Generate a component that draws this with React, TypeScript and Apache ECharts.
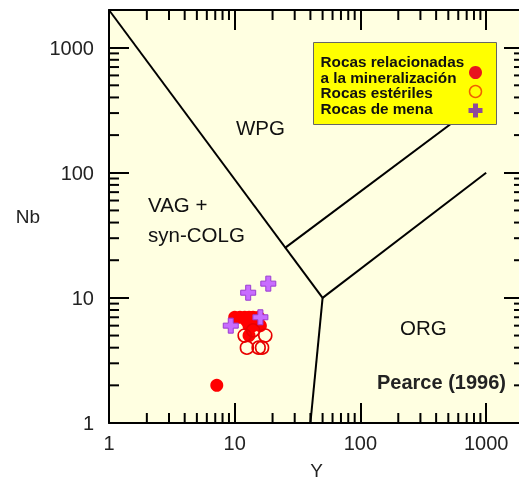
import React, { useEffect, useRef } from 'react';
import * as echarts from 'echarts';

// Data values: [Y (ppm), Nb (ppm)]
const relatedRocks: [number, number][] = [
  [10, 7], [11, 7], [12, 7], [13, 7], [14, 7], [15.5, 7], [12.5, 6.5], [13, 6], [14, 6], [16, 6], [13, 5], [7.2, 2],
];
const barrenRocks: [number, number][] = [
  [12, 5], [17.5, 5], [12.5, 4], [15.5, 4], [16.5, 4], [14, 5.5],
];
const oreRocks: [number, number][] = [
  [9.3, 6], [12.8, 11], [18.5, 13], [16, 7],
];

// Discriminant boundaries (Pearce et al.)
const boundaryWpgVag: [number, number][] = [[1, 2000], [50, 10]];
const boundaryVagOrg: [number, number][] = [[50, 10], [40, 1]];
const boundaryWpgOrg: [number, number][] = [[50, 10], [1000, 100]];
const boundaryUpper: [number, number][] = [[25, 25], [1000, 400]];

const AXIS_MIN = 1;
const AXIS_MAX = 2000;
const majorTicks = [1, 10, 100, 1000];
const minorTicks = [2, 3, 4, 5, 6, 7, 8, 9, 20, 30, 40, 50, 60, 70, 80, 90, 200, 300, 400, 500, 600, 700, 800, 900];

const FONT = "'Liberation Sans', Arial, Helvetica, sans-serif";
const CROSS = 'path://M1,0H2V1H3V2H2V3H1V2H0V1H1Z';

const labelFormatter = (v: number) => {
  const r = Math.round(v);
  return majorTicks.includes(r) ? String(r) : '';
};

export default function App() {
  const ref = useRef<HTMLDivElement>(null);
  useEffect(() => {
    if (!ref.current) return;
    const chart = echarts.init(ref.current, undefined, { renderer: 'svg' });
    const tickStyle = { color: '#000', width: 2 };
    const baseAxis = {
      type: 'log' as const,
      logBase: 10,
      min: AXIS_MIN,
      max: AXIS_MAX,
      splitLine: { show: false },
      axisLine: { show: true, lineStyle: tickStyle },
      axisTick: { show: true, inside: true, length: 20, lineStyle: tickStyle },
    };
    const minorData: number[][] = [];
    minorTicks.forEach((v) => {
      minorData.push([v, 1, 0]);
      minorData.push([1, v, 1]);
    });
    const LZ = 100;
    chart.setOption({
      animation: false,
      grid: {
        left: 109, top: 10, width: 415, height: 413,
        outerBoundsMode: 'none',
        containLabel: false,
        show: true, backgroundColor: '#ffffe1', borderWidth: 0,
      },
      xAxis: [
        {
          ...baseAxis,
          position: 'bottom',
          axisLabel: { formatter: labelFormatter, fontSize: 20, color: '#222', margin: 10, fontFamily: FONT },
          name: 'Y', nameLocation: 'middle', nameGap: 38,
          nameTextStyle: { fontSize: 19, color: '#222', fontFamily: FONT },
        },
        { ...baseAxis, position: 'top', axisLabel: { show: false } },
      ],
      yAxis: [
        {
          ...baseAxis,
          position: 'left',
          axisLabel: { formatter: labelFormatter, fontSize: 20, color: '#222', margin: 15, fontFamily: FONT },
          name: 'Nb', nameLocation: 'middle', nameGap: 69, nameRotate: 0,
          nameTextStyle: { fontSize: 19, color: '#222', fontFamily: FONT },
        },
        { ...baseAxis, position: 'right', axisLabel: { show: false } },
      ],
      series: [
        {
          type: 'custom',
          silent: true,
          clip: false,
          encode: { x: 0, y: 1 },
          data: minorData,
          z: 3,
          renderItem: (_p: any, api: any) => {
            const kind = api.value(2);
            const st = { stroke: '#000', lineWidth: 2 };
            if (kind === 0) {
              const v = api.value(0);
              const b = api.coord([v, AXIS_MIN]);
              const t = api.coord([v, AXIS_MAX]);
              return {
                type: 'group',
                children: [
                  { type: 'line', shape: { x1: b[0], y1: b[1], x2: b[0], y2: b[1] - 10 }, style: st },
                  { type: 'line', shape: { x1: t[0], y1: t[1], x2: t[0], y2: t[1] + 10 }, style: st },
                ],
              };
            }
            const v = api.value(1);
            const l = api.coord([AXIS_MIN, v]);
            const r = api.coord([AXIS_MAX, v]);
            return {
              type: 'group',
              children: [
                { type: 'line', shape: { x1: l[0], y1: l[1], x2: l[0] + 10, y2: l[1] }, style: st },
                { type: 'line', shape: { x1: r[0], y1: r[1], x2: r[0] - 10, y2: r[1] }, style: st },
              ],
            };
          },
        },
        ...[boundaryWpgVag, boundaryVagOrg, boundaryWpgOrg, boundaryUpper].map((d) => ({
          type: 'line',
          data: d,
          symbol: 'none',
          silent: true,
          clip: true,
          lineStyle: { color: '#000', width: 2 },
          z: 2,
        })),
        {
          name: 'Rocas relacionadas a la mineralización',
          type: 'scatter',
          data: relatedRocks,
          symbol: 'circle',
          symbolSize: 13,
          itemStyle: { color: '#ff0000', opacity: 1 },
          z: 4,
        },
        {
          name: 'Rocas estériles',
          type: 'scatter',
          data: barrenRocks,
          symbol: 'circle',
          symbolSize: 13,
          itemStyle: { color: 'rgba(0,0,0,0)', borderColor: '#e80000', borderWidth: 1.6, opacity: 1 },
          z: 5,
        },
        {
          name: 'Rocas de mena',
          type: 'scatter',
          data: oreRocks,
          symbol: CROSS,
          symbolSize: 15,
          itemStyle: { color: '#c86cff', borderColor: '#9a3cd0', borderWidth: 1, opacity: 1 },
          z: 6,
        },
      ],
      graphic: [
        { type: 'text', left: 236, top: 117, style: { text: 'WPG', fill: '#111', font: `20.5px ${FONT}` } },
        { type: 'text', left: 148, top: 194, style: { text: 'VAG +', fill: '#111', font: `20.5px ${FONT}` } },
        { type: 'text', left: 148, top: 224, style: { text: 'syn-COLG', fill: '#111', font: `20.5px ${FONT}` } },
        { type: 'text', left: 400, top: 317, style: { text: 'ORG', fill: '#111', font: `20.5px ${FONT}` } },
        { type: 'text', left: 377, top: 372, style: { text: 'Pearce (1996)', fill: '#222', font: `bold 20px ${FONT}` } },
        {
          type: 'group',
          left: 313,
          top: 42,
          z: LZ,
          children: [
            { type: 'rect', z: LZ, shape: { x: 0, y: 0, width: 183, height: 82 }, style: { fill: '#ffff00', stroke: '#666', lineWidth: 1 } },
            {
              type: 'text', z: LZ + 1, x: 7, y: 11,
              style: {
                text: 'Rocas relacionadas\na la mineralización\nRocas estériles\nRocas de mena',
                font: `bold 15.3px ${FONT}`, fill: '#111', lineHeight: 15.7,
              },
            },
            { type: 'circle', z: LZ + 1, shape: { cx: 162, cy: 30, r: 6.5 }, style: { fill: '#e8141e' } },
            { type: 'circle', z: LZ + 1, shape: { cx: 162, cy: 49, r: 6 }, style: { fill: 'none', stroke: '#f06000', lineWidth: 1.5 } },
            {
              type: 'polygon',
              z: LZ + 1,
              shape: {
                points: [
                  [159.5, 61], [164.5, 61], [164.5, 65.5], [169, 65.5], [169, 70.5], [164.5, 70.5],
                  [164.5, 75], [159.5, 75], [159.5, 70.5], [155, 70.5], [155, 65.5], [159.5, 65.5],
                ],
              },
              style: { fill: '#8e4a9a' },
            },
          ],
        },
      ],
    });
    return () => chart.dispose();
  }, []);
  return <div ref={ref} style={{ position: 'fixed', left: 0, top: 0, width: 519, height: 480 }} />;
}
